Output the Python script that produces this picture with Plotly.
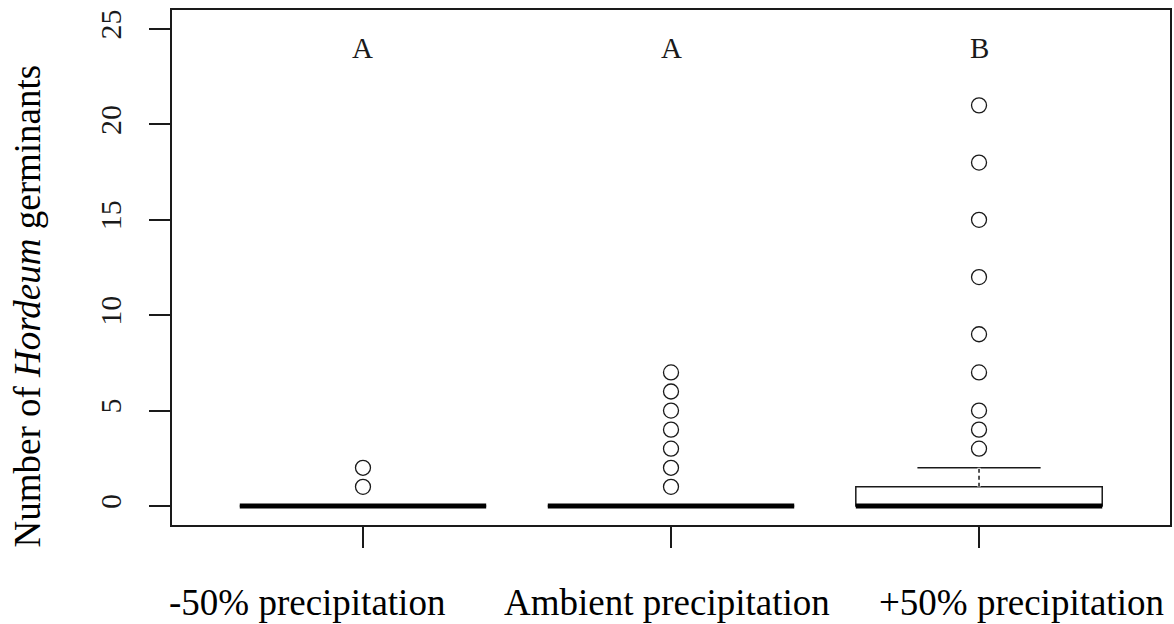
import plotly.graph_objects as go

# ---- data ----
groups = ["-50% precipitation", "Ambient precipitation", "+50% precipitation"]
positions = [1, 2, 3]
letters = ["A", "A", "B"]
q1 = [0, 0, 0]
median = [0, 0, 0]
q3 = [0, 0, 1]
lower_whisker = [0, 0, 0]
upper_whisker = [0, 0, 2]
outliers = [
    [1, 2],
    [1, 2, 3, 4, 5, 6, 7],
    [3, 4, 5, 7, 9, 12, 15, 18, 21],
]
y_ticks = [0, 5, 10, 15, 20, 25]
letter_y = 24

# ---- style ----
INK = "#1a1a1a"
SERIF = "Liberation Serif, Times New Roman, serif"
BOXWEX = 0.8
label_shift = [-56, -4, 42]

fig = go.Figure()

# boxes (precomputed statistics)
fig.add_trace(go.Box(
    x=positions, q1=q1, median=median, q3=q3,
    lowerfence=lower_whisker, upperfence=upper_whisker,
    width=BOXWEX, whiskerwidth=0.5,
    fillcolor="white", line=dict(color=INK, width=1.5),
    boxpoints=False, showlegend=False, hoverinfo="skip",
))

# dashed whiskers (R style): hide solid segment then redraw dashed
for i, p in enumerate(positions):
    if upper_whisker[i] > q3[i]:
        fig.add_trace(go.Scatter(x=[p, p], y=[q3[i], upper_whisker[i]], mode="lines",
                                 line=dict(color="white", width=3), showlegend=False, hoverinfo="skip"))
        fig.add_trace(go.Scatter(x=[p, p], y=[q3[i], upper_whisker[i]], mode="lines",
                                 line=dict(color=INK, width=1.5, dash="4px,3px"), showlegend=False, hoverinfo="skip"))

# thick medians
for i, p in enumerate(positions):
    fig.add_trace(go.Scatter(x=[p - BOXWEX / 2, p + BOXWEX / 2], y=[median[i], median[i]],
                             mode="lines", line=dict(color="black", width=5),
                             showlegend=False, hoverinfo="skip"))

# outliers
ox, oy = [], []
for p, vals in zip(positions, outliers):
    ox += [p] * len(vals)
    oy += vals
fig.add_trace(go.Scatter(x=ox, y=oy, mode="markers",
                         marker=dict(symbol="circle-open", size=15, color=INK, line=dict(width=1.3)),
                         showlegend=False, hoverinfo="skip"))

annotations = []
# significance letters
for p, t in zip(positions, letters):
    annotations.append(dict(x=p, y=letter_y, xref="x", yref="y", text=t, showarrow=False,
                            xanchor="center", yanchor="middle",
                            font=dict(family=SERIF, size=29, color=INK)))
# group labels
for p, g, s in zip(positions, groups, label_shift):
    annotations.append(dict(x=p, y=-0.1505, xref="x", yref="paper", text=g, showarrow=False,
                            xanchor="center", yanchor="middle", xshift=s,
                            font=dict(family=SERIF, size=37, color="black")))
# y axis title
annotations.append(dict(x=0, y=0.4243, xref="paper", yref="paper",
                        text="Number of <i>Hordeum</i> germinants", showarrow=False,
                        textangle=-90, xanchor="center", yanchor="middle", xshift=-145,
                        font=dict(family=SERIF, size=37, color="black")))

fig.update_layout(
    width=1174, height=624,
    margin=dict(l=172, r=2, t=10, b=99),
    paper_bgcolor="white", plot_bgcolor="white",
    annotations=annotations,
    xaxis=dict(range=[0.38, 3.62], tickvals=positions, showticklabels=False,
               ticks="outside", ticklen=21, tickwidth=1.5, tickcolor=INK,
               showline=True, mirror=True, linecolor=INK, linewidth=1.5,
               showgrid=False, zeroline=False),
    yaxis=dict(range=[-1, 26], tickvals=y_ticks, ticktext=[str(v) for v in y_ticks],
               ticks="outside", ticklen=21, tickwidth=1.5, tickcolor=INK,
               tickangle=-90, tickfont=dict(family=SERIF, size=30, color=INK),
               ticklabelstandoff=16,
               showline=True, mirror=True, linecolor=INK, linewidth=1.5,
               showgrid=False, zeroline=False),
)

fig.write_html("out.html", config={"displayModeBar": False})
